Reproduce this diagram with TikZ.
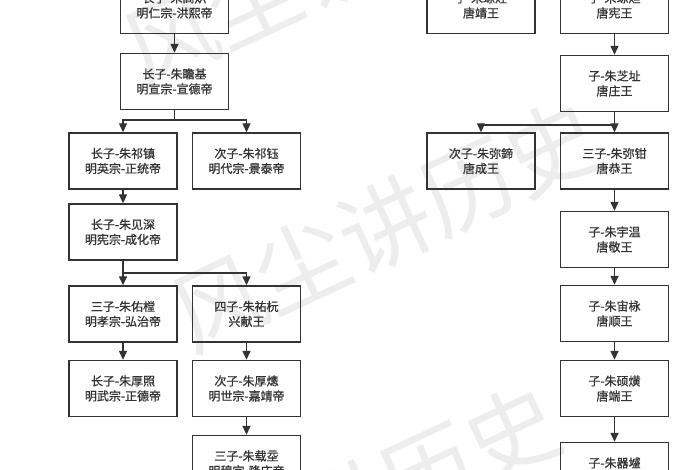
\documentclass[tikz,border=0pt]{standalone}
\usepackage{fontspec}
\newfontfamily\cjk{Noto Sans CJK SC}[FakeBold=0.8]
\newfontfamily\wmfont{Noto Sans CJK SC}
\usetikzlibrary{arrows.meta}
\definecolor{ink}{HTML}{333333}
\tikzset{
  famnode/.style={draw=ink, line width=1.4pt, minimum width=108pt, minimum height=56pt,
    align=center, text=ink, font=\cjk\fontsize{12}{15}\selectfont, inner sep=0pt},
  link/.style={draw=ink, line width=1.4pt},
  arr/.style={link, -{Triangle[length=9pt,width=8pt]}},
  wmark/.style={text=black!7, font=\wmfont\fontsize{92}{92}\selectfont, rotate=25, inner sep=0pt}
}
\begin{document}
\begin{tikzpicture}[x=1pt,y=-1pt]
\useasboundingbox (0,0) rectangle (700,470);
\clip (0,0) rectangle (700,470);
\fill[white] (0,0) rectangle (700,470);
% watermark
\node[wmark] (w1) at (337,-40) {风尘讲历史};
\node[wmark] (w2) at (385,225) {风尘讲历史};
\node[wmark] (w3) at (345,510) {风尘讲历史};
% left tree
\node[famnode] (B1) at (174.5,5.5) {长子-朱高炽\\明仁宗-洪熙帝};
\node[famnode] (B2) at (174.5,81.5) {长子-朱瞻基\\明宣宗-宣德帝};
\node[famnode] (B3) at (123,161) {长子-朱祁镇\\明英宗-正统帝};
\node[famnode] (B4) at (246.5,161) {次子-朱祁钰\\明代宗-景泰帝};
\node[famnode] (B5) at (123,232) {长子-朱见深\\明宪宗-成化帝};
\node[famnode] (B6) at (123,314) {三子-朱佑樘\\明孝宗-弘治帝};
\node[famnode] (B7) at (246.5,314) {四子-朱祐杬\\兴献王};
\node[famnode] (B8) at (123,388.5) {长子-朱厚照\\明武宗-正德帝};
\node[famnode] (B9) at (246.5,388.5) {次子-朱厚熜\\明世宗-嘉靖帝};
\node[famnode] (B10) at (246.5,463.5) {三子-朱载坖\\明穆宗-隆庆帝};
\coordinate (j1) at (174.5,120);
\coordinate (j2) at (123,273);
\draw[arr] (B1) -- (B2);
\draw[link] (B2) -- (j1);
\draw[arr] (j1) -| (B3);
\draw[arr] (j1) -| (B4);
\draw[arr] (B3) -- (B5);
\draw[arr] (B5) -- (B6);
\draw[arr] (j2) -| (B7);
\draw[arr] (B6) -- (B8);
\draw[arr] (B7) -- (B9);
\draw[arr] (B9) -- (B10);
% right tree
\node[famnode] (R1) at (481,5.5) {子-朱琼烃\\唐靖王};
\node[famnode] (R2) at (614.5,5.5) {子-朱琼炟\\唐宪王};
\node[famnode] (R3) at (614.5,83.5) {子-朱芝址\\唐庄王};
\node[famnode] (R4) at (481,161) {次子-朱弥鍗\\唐成王};
\node[famnode] (R5) at (614.5,161) {三子-朱弥钳\\唐恭王};
\node[famnode] (R6) at (614.5,239.5) {子-朱宇温\\唐敬王};
\node[famnode] (R7) at (614.5,313.5) {子-朱宙栐\\唐顺王};
\node[famnode] (R8) at (614.5,388.5) {子-朱硕熿\\唐端王};
\node[famnode] (R9) at (614.5,470.5) {子-朱器墭\\唐裕王};
\coordinate (j3) at (614.5,125);
\draw[arr] (R2) -- (R3);
\draw[arr] (R3) -- (R5);
\draw[arr] (j3) -| (R4);
\draw[arr] (R5) -- (R6);
\draw[arr] (R6) -- (R7);
\draw[arr] (R7) -- (R8);
\draw[arr] (R8) -- (R9);
\end{tikzpicture}
\end{document}
